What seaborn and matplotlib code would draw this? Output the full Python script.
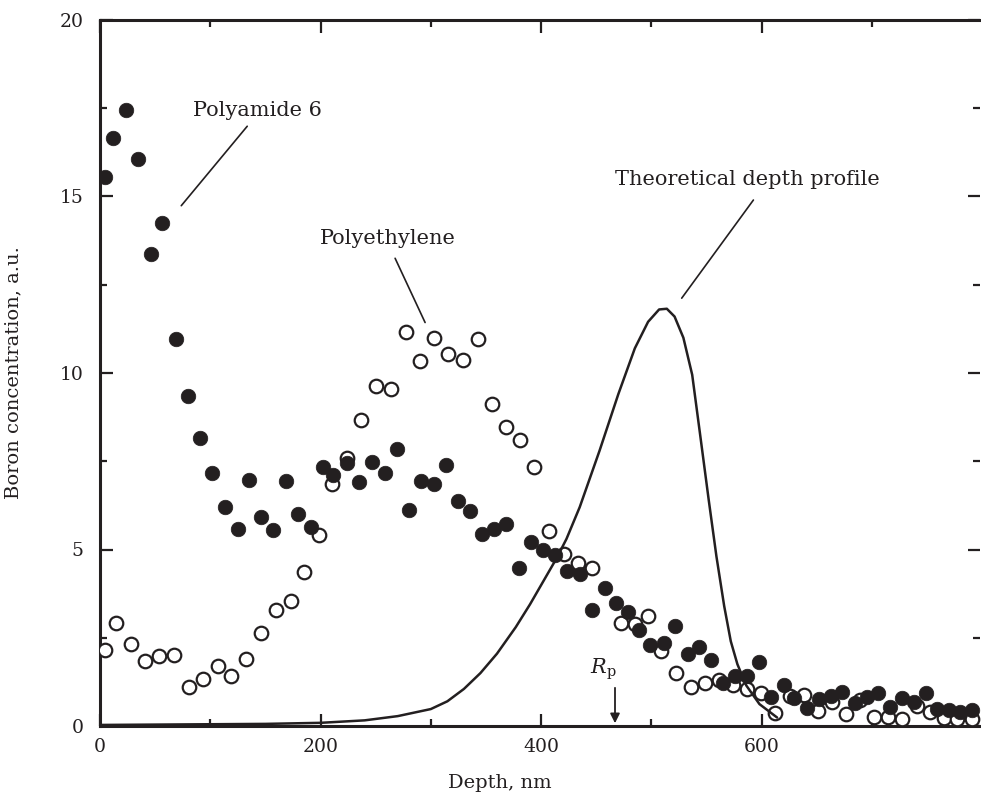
import numpy as np
import pandas as pd
import matplotlib
matplotlib.use("Agg")
import matplotlib.pyplot as plt
import seaborn as sns

# ---- data ----
pa6_depth = [4.5, 12, 24, 34.6, 46, 56.5, 68.6, 79.7, 90.8, 101.4, 113.7, 124.8, 135.3, 145.9,
             157.3, 169, 179.8, 191, 201.8, 211.5, 224, 234.8, 247, 258.5, 269.7, 280.5, 291.3,
             302.8, 313.5, 324.6, 335.5, 346.7, 357.5, 368.5, 380, 391, 402, 413, 423.7, 435,
             446.2, 457.5, 468.2, 478.8, 488.6, 499, 511, 521.5, 533, 543.3, 554.4, 564.5, 575.5,
             586.5, 597.5, 608.5, 619.8, 629.7, 641.3, 652.4, 662.8, 673.2, 684.8, 695.1, 705.7,
             716.3, 727.4, 738, 748.6, 759.3, 769.8, 780.3, 791.1]
pa6_conc = [15.55, 16.67, 17.45, 16.05, 13.37, 14.24, 10.96, 9.35, 8.17, 7.18, 6.19, 5.59, 6.97, 5.93,
            5.56, 6.94, 6.0, 5.64, 7.35, 7.12, 7.44, 6.92, 7.49, 7.18, 7.84, 6.12, 6.94,
            6.85, 7.39, 6.38, 6.09, 5.43, 5.57, 5.72, 4.47, 5.20, 4.98, 4.84, 4.40, 4.30,
            3.29, 3.91, 3.49, 3.24, 2.72, 2.29, 2.34, 2.83, 2.04, 2.23, 1.86, 1.21, 1.41,
            1.41, 1.82, 0.83, 1.17, 0.78, 0.50, 0.76, 0.84, 0.97, 0.66, 0.82, 0.93,
            0.55, 0.80, 0.69, 0.94, 0.49, 0.44, 0.40, 0.45]

pe_depth = [4.5, 14.1, 28, 40.6, 53.5, 66.8, 80.6, 93.2, 106.8, 118.8, 132.3, 145.9, 159.4, 172.9,
            185, 198.5, 210.5, 224, 237, 250, 264.2, 277.3, 290, 303.3, 316, 328.8, 342.4, 355.2,
            368.5, 381.2, 393.5, 407, 420.5, 433.6, 446.3, 472, 485.3, 497.3, 508.5, 522, 535.7,
            548.4, 561.7, 573.7, 586.5, 599.3, 612, 626, 638.3, 651.5, 664, 676.5, 689, 702.3,
            714.9, 727.2, 740.5, 752.4, 765.2, 777.3, 790.3]
pe_conc = [2.16, 2.93, 2.31, 1.85, 1.97, 2.0, 1.10, 1.33, 1.70, 1.42, 1.89, 2.63, 3.28, 3.55,
           4.36, 5.42, 6.85, 7.58, 8.67, 9.63, 9.54, 11.17, 10.34, 11.0, 10.54, 10.37, 10.95, 9.12,
           8.46, 8.10, 7.34, 5.52, 4.87, 4.62, 4.47, 2.93, 2.90, 3.13, 2.12, 1.50, 1.10,
           1.21, 1.31, 1.16, 1.05, 0.93, 0.38, 0.86, 0.88, 0.42, 0.68, 0.33, 0.75, 0.26,
           0.25, 0.21, 0.58, 0.41, 0.24, 0.21, 0.21]

theory_depth = [0, 50, 100, 150, 200, 240, 270, 300, 315, 330, 345, 360, 377, 390, 402, 414,
                423, 435, 453, 470, 485, 497, 507, 514, 521, 529, 537, 544, 552, 559, 566,
                572, 578, 586, 598, 614]
theory_conc = [0.03, 0.04, 0.05, 0.06, 0.09, 0.16, 0.28, 0.48, 0.70, 1.05, 1.5, 2.05, 2.8, 3.45,
               4.1, 4.75, 5.3, 6.2, 7.8, 9.4, 10.7, 11.45, 11.8, 11.82, 11.6, 11.0, 9.95, 8.3,
               6.4, 4.8, 3.4, 2.4, 1.75, 1.15, 0.62, 0.24]

x_ticks = [0, 200, 400, 600]
y_ticks = [0, 5, 10, 15, 20]

INK = "#231f20"

sns.set_style("ticks")
plt.rcParams["font.family"] = ["DejaVu Serif"]
plt.rcParams["mathtext.fontset"] = "dejavuserif"

fig = plt.figure(figsize=(9.81, 7.97), dpi=100)
ax = fig.add_axes([100 / 981, 71 / 797, 0.999 - 100 / 981, 706 / 797])

pe_df = pd.DataFrame({"depth": pe_depth, "conc": pe_conc})
pa_df = pd.DataFrame({"depth": pa6_depth, "conc": pa6_conc})
th_df = pd.DataFrame({"depth": theory_depth, "conc": theory_conc})

sns.scatterplot(data=pe_df, x="depth", y="conc", ax=ax, marker="o", s=95,
                facecolor="white", edgecolor=INK, linewidth=1.6, zorder=3)
sns.scatterplot(data=pa_df, x="depth", y="conc", ax=ax, marker="o", s=110,
                color=INK, edgecolor=INK, linewidth=0.5, zorder=4)
sns.lineplot(data=th_df, x="depth", y="conc", ax=ax, color=INK, lw=1.8, zorder=5,
             sort=False, estimator=None)

ax.set_xlim(0, 798)
ax.set_ylim(0, 20)
ax.set_xticks(x_ticks)
ax.set_yticks(y_ticks)
ax.set_xticks([100, 300, 500, 700], minor=True)
ax.set_yticks([2.5, 7.5, 12.5, 17.5], minor=True)
ax.tick_params(which="both", direction="in", top=True, right=True, colors=INK,
               labelsize=13.5)
ax.tick_params(which="major", length=9, width=1.6)
ax.tick_params(which="minor", length=5, width=1.6)
ax.tick_params(axis="x", which="major", pad=9)
ax.tick_params(axis="y", which="major", pad=12)
for side in ["left", "bottom", "top"]:
    ax.spines[side].set_linewidth(2.2)
    ax.spines[side].set_color(INK)
ax.spines["right"].set_visible(False)

ax.set_xlabel("Depth, nm", fontsize=14, color=INK)
ax.xaxis.set_label_coords(0.454, -0.068)
ax.set_ylabel("Boron concentration, a.u.", fontsize=14, color=INK)
ax.yaxis.set_label_coords(-0.088, 0.5)

txt = dict(fontsize=15, color=INK)
ax.text(84, 17.45, "Polyamide 6", ha="left", va="center", **txt)
ax.plot([133.5, 73.7], [16.99, 14.74], color=INK, lw=1.2)
ax.text(199.5, 13.82, "Polyethylene", ha="left", va="center", **txt)
ax.plot([267.6, 294.8], [13.25, 11.43], color=INK, lw=1.2)
ax.text(707.5, 15.47, "Theoretical depth profile", ha="right", va="center", **txt)
ax.plot([592.5, 527.5], [14.9, 12.12], color=INK, lw=1.2)

ax.text(456, 1.6, r"$R_{\mathrm{p}}$", ha="center", va="center", fontsize=15, color=INK)
ax.annotate("", xy=(467, 0.0), xytext=(467, 1.16),
            arrowprops=dict(arrowstyle="-|>", color=INK, lw=1.3, mutation_scale=14))

fig.savefig("out.png", dpi=100)
